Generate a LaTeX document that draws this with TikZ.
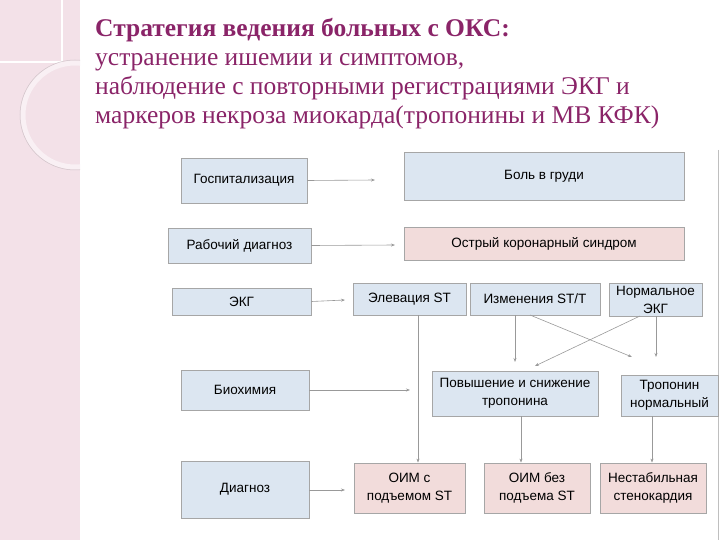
\documentclass[tikz,border=0pt]{standalone}
\usepackage{fontspec}
\setmainfont{Liberation Serif}
\newfontfamily\boxfont{Liberation Sans}
\usetikzlibrary{arrows.meta}
\definecolor{tcol}{HTML}{8A2468}
\definecolor{bblue}{HTML}{DCE6F1}
\definecolor{bpink}{HTML}{F2DCDB}
\definecolor{strip}{HTML}{F3E1E8}
\tikzset{
 bx/.style={draw=gray!70, line width=0.8pt, fill=bblue, font=\boxfont\fontsize{13.5}{18}\selectfont, align=center, inner sep=0pt},
 pk/.style={bx, fill=bpink},
 ar/.style={draw=gray!80, line width=0.6pt, -{Stealth[length=4pt,width=3pt]}}
}
\newcommand{\bxat}[6]{\node[#1, minimum width=#4pt-#2pt, minimum height=#5pt-#3pt] (#6) at ({(#2+#4)/2*1pt},{-(#3+#5)/2*1pt})}
\begin{document}
\begin{tikzpicture}[x=1pt,y=-1pt]
\useasboundingbox (0,0) rectangle (720,540);
\fill[strip] (0,0) rectangle (80,540);
\begin{scope}
\clip (0,0) rectangle (80,540);
\draw[white, line width=1.5pt] (0,62) -- (62,62) -- (62,0);
\draw[white!50!strip, line width=5pt] (75,115) circle[radius=52];
\draw[strip!70!gray, line width=0.5pt] (75,115) circle[radius=55];
\end{scope}
\draw[gray!50, line width=1pt] (718,150) -- (718,540);
\node[anchor=north west, text=tcol, align=left, font=\fontsize{25.5}{29}\selectfont, inner sep=0pt] (title) at (95,18)
 {\textbf{Стратегия ведения больных с ОКС:}\\устранение ишемии и симптомов,\\наблюдение с повторными регистрациями ЭКГ и\\маркеров некроза миокарда(тропонины и МВ КФК)};
\bxat{bx}{181}{158}{307}{203}{hosp} {Госпитализация};
\bxat{bx}{404}{152}{684}{200}{pain} {Боль в груди};
\bxat{bx}{168}{228}{311}{263}{work} {Рабочий диагноз};
\bxat{pk}{404}{227}{684}{260}{acs} {Острый коронарный синдром};
\bxat{bx}{172}{288}{311}{315}{ecg} {ЭКГ};
\bxat{bx}{353}{283}{466}{315}{elev} {Элевация ST};
\bxat{bx}{470}{283}{600}{315}{chg} {Изменения ST/T};
\bxat{bx}{609}{283}{702}{316}{norm} {Нормальное\\ЭКГ};
\bxat{bx}{181}{370}{309}{410}{bio} {Биохимия};
\bxat{bx}{432}{371}{598}{416}{rise} {Повышение и снижение\\тропонина};
\bxat{bx}{621}{375}{718}{416}{tnorm} {Тропонин\\нормальный};
\bxat{bx}{181}{461}{309}{518}{diag} {Диагноз};
\bxat{pk}{354}{463}{465}{513}{stemi} {ОИМ с\\подъемом ST};
\bxat{pk}{484}{463}{590}{513}{nstemi} {ОИМ без\\подъема ST};
\bxat{pk}{600}{463}{706}{513}{ua} {Нестабильная\\стенокардия};
\coordinate (e1) at (375,180);
\coordinate (e2) at (395,245);
\coordinate (e3) at (345,300);
\coordinate (e4) at (410,390);
\coordinate (e5) at (345,490);
\coordinate (c1) at (632,357);
\coordinate (c2) at (535,366);
\draw[ar] (hosp.east) -- (e1);
\draw[ar] (work.east) -- (e2);
\draw[ar] (ecg.east) -- (e3);
\draw[ar] (bio.east) -- (e4);
\draw[ar] (diag.east |- e5) -- (e5);
\draw[ar] (elev.south -| 418,0) -- (stemi.north -| 418,0);
\draw[ar] (chg.south -| 515,0) -- (515,362);
\draw[ar] (530,315) -- (c1);
\draw[ar] (640,316) -- (c2);
\draw[ar] (norm.south -| 656,0) -- (656,357);
\draw[ar] (rise.south -| 521,0) -- (nstemi.north -| 521,0);
\draw[ar] (tnorm.south -| 652,0) -- (ua.north -| 652,0);
\end{tikzpicture}
\end{document}
